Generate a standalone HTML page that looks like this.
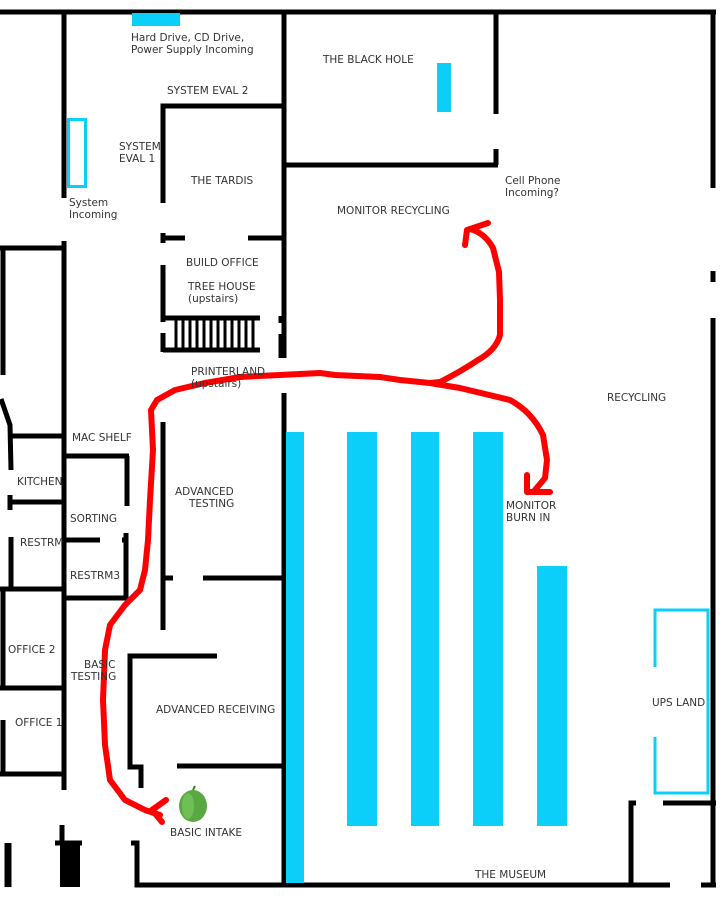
<!DOCTYPE html>
<html><head><meta charset="utf-8"><style>
html,body{margin:0;padding:0;background:#fff;}
svg{display:block;}
text{font-family:"DejaVu Sans","Liberation Sans",sans-serif;font-size:10.5px;fill:#333;}
</style></head><body>
<svg width="727" height="898" viewBox="0 0 727 898" xmlns="http://www.w3.org/2000/svg">
<g stroke="#000" stroke-width="5" fill="none" stroke-linecap="butt">
<line x1="0" y1="12" x2="716" y2="12"/>
<line x1="64" y1="12" x2="64" y2="198"/>
<line x1="64" y1="241" x2="64" y2="790"/>
<line x1="0" y1="248" x2="64" y2="248"/>
<line x1="3" y1="248" x2="3" y2="375"/>
<polyline points="1,399 10,425 11,470"/>
<line x1="11" y1="436" x2="64" y2="436"/>
<line x1="64" y1="456" x2="129" y2="456"/>
<line x1="127" y1="456" x2="127" y2="506"/>
<line x1="10" y1="502" x2="64" y2="502"/>
<line x1="10" y1="495" x2="10" y2="510"/>
<line x1="11" y1="537" x2="11" y2="588"/>
<line x1="64" y1="540" x2="100" y2="540"/>
<line x1="122" y1="540" x2="128" y2="540"/>
<line x1="126" y1="533" x2="126" y2="600"/>
<line x1="64" y1="598" x2="128" y2="598"/>
<line x1="0" y1="589" x2="64" y2="589"/>
<line x1="3" y1="589" x2="3" y2="688"/>
<line x1="0" y1="688" x2="62" y2="688"/>
<line x1="3" y1="720" x2="3" y2="775"/>
<line x1="0" y1="774" x2="62" y2="774"/>
<polyline points="217,656 130,656 130,767 141,767 141,788"/>
<line x1="177" y1="766" x2="284" y2="766"/>
<line x1="163" y1="422" x2="163" y2="630"/>
<line x1="163" y1="578" x2="173" y2="578"/>
<line x1="203" y1="578" x2="284" y2="578"/>
<polyline points="131,843 137,843 137,885 670,885"/>
<line x1="701" y1="885" x2="716" y2="885"/>
<line x1="8" y1="843" x2="8" y2="887" stroke-width="7"/>
<line x1="62" y1="825" x2="62" y2="845"/>
<line x1="55" y1="843" x2="82" y2="843"/>
<rect x="60" y="843" width="20" height="44" fill="#000" stroke="none"/>
<line x1="284" y1="12" x2="284" y2="358"/>
<line x1="284" y1="393" x2="284" y2="887"/>
<polyline points="163,203 163,106 284,106"/>
<line x1="163" y1="238" x2="185" y2="238"/>
<line x1="163" y1="233" x2="163" y2="243"/>
<line x1="248" y1="238" x2="284" y2="238"/>
<line x1="163" y1="265" x2="163" y2="322"/>
<line x1="163" y1="318" x2="260" y2="318"/>
<line x1="163" y1="350" x2="260" y2="350"/>
<line x1="163" y1="333" x2="163" y2="352"/>
</g>
<g stroke="#000" stroke-width="3">
<line x1="280" y1="316" x2="280" y2="323"/>
<line x1="280" y1="334" x2="280" y2="358"/>
<line x1="176" y1="318" x2="176" y2="350"/><line x1="183" y1="318" x2="183" y2="350"/>
<line x1="190" y1="318" x2="190" y2="350"/><line x1="197" y1="318" x2="197" y2="350"/>
<line x1="204" y1="318" x2="204" y2="350"/><line x1="211" y1="318" x2="211" y2="350"/>
<line x1="218" y1="318" x2="218" y2="350"/><line x1="225" y1="318" x2="225" y2="350"/>
<line x1="232" y1="318" x2="232" y2="350"/><line x1="239" y1="318" x2="239" y2="350"/>
<line x1="246" y1="318" x2="246" y2="350"/><line x1="253" y1="318" x2="253" y2="350"/>
</g>
<g stroke="#000" stroke-width="5" fill="none">
<line x1="496" y1="12" x2="496" y2="114"/>
<line x1="284" y1="165" x2="498" y2="165"/>
<line x1="496" y1="149" x2="496" y2="165"/>
<line x1="713" y1="12" x2="713" y2="188"/>
<line x1="713" y1="271" x2="713" y2="282"/>
<line x1="713" y1="318" x2="713" y2="887"/>
<polyline points="636,803 631,803 631,887"/>
<line x1="663" y1="803" x2="716" y2="803"/>
</g>
<g fill="#0bcff9">
<rect x="132" y="13" width="48" height="13"/>
<rect x="437" y="63" width="14" height="49"/>
<rect x="286" y="432" width="18" height="451"/>
<rect x="347" y="432" width="30" height="394"/>
<rect x="411" y="432" width="28" height="394"/>
<rect x="473" y="432" width="30" height="394"/>
<rect x="537" y="566" width="30" height="260"/>
</g>
<g stroke="#0bcff9" stroke-width="3" fill="none">
<rect x="68.5" y="119.5" width="17" height="67"/>
<polyline points="655,667 655,610 708,610 708,793 655,793 655,737"/>
</g>
<ellipse cx="193" cy="806" rx="14" ry="16" fill="#5aa843"/>
<ellipse cx="188" cy="806" rx="6" ry="13" fill="#6fbf52"/>
<line x1="193" y1="790" x2="195" y2="786" stroke="#4a7d2a" stroke-width="2"/>
<g stroke="#f00" stroke-width="6" fill="none" stroke-linecap="round" stroke-linejoin="round">
<path d="M465,245 L467,230 L488,223"/>
<path d="M470,229 Q485,233 493,248 L499,272 L500,300 L500,335 Q496,350 478,360 Q460,372 440,382 L430,383 L400,380 L380,377 L335,375 L320,373 L280,375 L240,377 L205,383 L175,390 L157,400 L151,410 L153,450 L150,500 L148,540 L145,570 L140,590 L125,605 L110,625 L105,650 L103,700 L105,745 L110,780 L125,800 L145,810 L160,815"/>
<path d="M166,800 L152,810 L162,822"/>
<path d="M430,383 L460,388 L510,400 Q532,412 543,435 L547,460 L545,478 L535,490"/>
<path d="M527,475 L527,492 L550,492"/>
</g>
<text x="131" y="41">Hard Drive, CD Drive,</text>
<text x="131" y="53">Power Supply Incoming</text>
<text x="167" y="94">SYSTEM EVAL 2</text>
<text x="119" y="150">SYSTEM</text>
<text x="119" y="162">EVAL 1</text>
<text x="191" y="184">THE TARDIS</text>
<text x="69" y="206">System</text>
<text x="69" y="218">Incoming</text>
<text x="186" y="266">BUILD OFFICE</text>
<text x="188" y="290">TREE HOUSE</text>
<text x="188" y="302">(upstairs)</text>
<text x="191" y="375">PRINTERLAND</text>
<text x="191" y="387">(upstairs)</text>
<text x="72" y="441">MAC SHELF</text>
<text x="17" y="485">KITCHEN</text>
<text x="70" y="522">SORTING</text>
<text x="20" y="546">RESTRM</text>
<text x="70" y="579">RESTRM3</text>
<text x="175" y="495">ADVANCED</text>
<text x="189" y="507">TESTING</text>
<text x="8" y="653">OFFICE 2</text>
<text x="84" y="668">BASIC</text>
<text x="71" y="680">TESTING</text>
<text x="15" y="726">OFFICE 1</text>
<text x="156" y="713">ADVANCED RECEIVING</text>
<text x="170" y="836">BASIC INTAKE</text>
<text x="323" y="63">THE BLACK HOLE</text>
<text x="337" y="214">MONITOR RECYCLING</text>
<text x="505" y="184">Cell Phone</text>
<text x="505" y="196">Incoming?</text>
<text x="607" y="401">RECYCLING</text>
<text x="506" y="509">MONITOR</text>
<text x="506" y="521">BURN IN</text>
<text x="652" y="706">UPS LAND</text>
<text x="475" y="878">THE MUSEUM</text>
</svg>
</body></html>
